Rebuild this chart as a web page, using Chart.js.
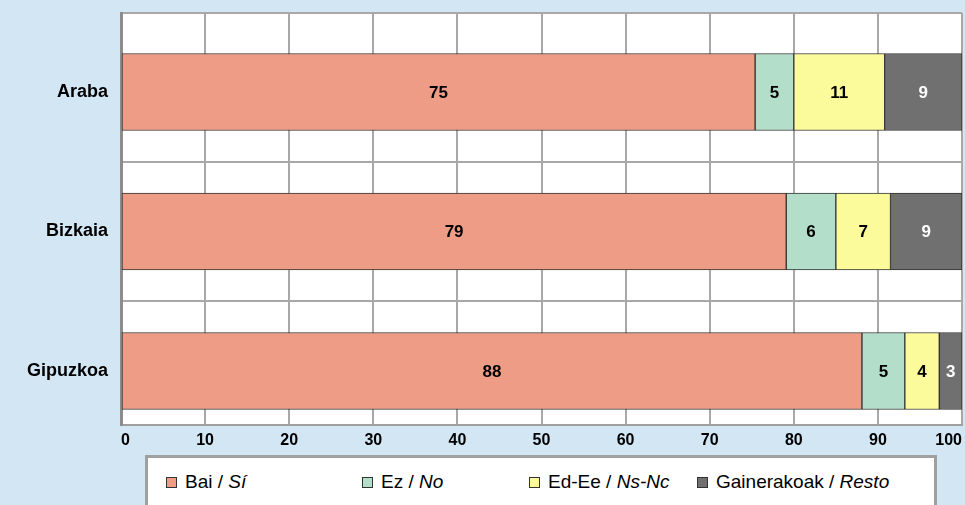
<!DOCTYPE html>
<html>
<head>
<meta charset="utf-8">
<script src="https://cdn.jsdelivr.net/npm/chart.js@4"></script>
<style>
  html, body { margin: 0; padding: 0; background: #D3E6F4; overflow: hidden; }
  #wrap { position: relative; width: 965px; height: 505px; }
  #legend {
    position: absolute; left: 145px; top: 455px; width: 786px; height: 60px;
    background: #fff; border: 3px solid #A0A0A0;
    font-family: "Liberation Sans", Arial, sans-serif; font-size: 19px; color: #000;
  }
  .item { position: absolute; top: 13px; display: flex; align-items: center; white-space: nowrap; line-height: 22px; }
  .item:nth-child(1) { left: 18px; }
  .item:nth-child(2) { left: 214px; }
  .item:nth-child(3) { left: 381px; }
  .item:nth-child(4) { left: 549px; }
  .box { width: 9px; height: 9px; border: 1px solid #333; margin-right: 8px; }
</style>
</head>
<body>
<div id="wrap">
  <canvas id="chart" width="965" height="505"></canvas>
  <div id="legend"></div>
</div>
<script>
// Province answers (%), stacked horizontal bars

const regions = ['Araba', 'Bizkaia', 'Gipuzkoa'];
const seriesEu = ['Bai', 'Ez', 'Ed-Ee', 'Gainerakoak'];
const seriesEs = ['Sí', 'No', 'Ns-Nc', 'Resto'];
const colors = ['#EE9C86', '#B3DEC9', '#FBFB9B', '#707070'];

const bai = [75.4, 79.1, 88.1];
const ez = [4.6, 5.9, 5.1];
const edEe = [10.8, 6.5, 4.1];
const resto = [9.2, 8.5, 2.7];

const seriesValues = [bai, ez, edEe, resto];

Chart.defaults.font.family = '"Liberation Sans", Arial, sans-serif';
Chart.defaults.color = '#000';

// white plot background
const plotBg = {
    id: 'plotBg',
    beforeDraw(chart) {
        const a = chart.chartArea;
        const ctx = chart.ctx;
        ctx.save();
        ctx.fillStyle = '#fff';
        ctx.fillRect(a.left, a.top, a.right - a.left, a.bottom - a.top);
        ctx.restore();
    }
};

// numbers inside the bars
const valueLabels = {
    id: 'valueLabels',
    afterDatasetsDraw(chart) {
        const ctx = chart.ctx;
        ctx.save();
        ctx.font = 'bold 17px "Liberation Sans", Arial, sans-serif';
        ctx.textAlign = 'center';
        ctx.textBaseline = 'middle';
        chart.data.datasets.forEach((ds, di) => {
            chart.getDatasetMeta(di).data.forEach((bar, i) => {
                ctx.fillStyle = di === 3 ? '#fff' : '#000';
                ctx.fillText(Math.round(ds.data[i].x), (bar.x + bar.base) / 2, bar.y + 1);
            });
        });
        ctx.restore();
    }
};

const datasets = seriesValues.map((vals, s) => ({
    label: seriesEu[s] + ' / ' + seriesEs[s],
    data: vals.map((v, i) => ({ x: v, y: i })),
    backgroundColor: colors[s],
    borderColor: '#333',
    borderWidth: 1,
    borderSkipped: false,
    barThickness: 77
}));

new Chart(document.getElementById('chart').getContext('2d'), {
    type: 'bar',
    data: { datasets: datasets },
    options: {
        indexAxis: 'y',
        responsive: false,
        animation: false,
        layout: { padding: { top: 13, right: 3, left: 0, bottom: 0 } },
        plugins: {
            legend: { display: false },
            tooltip: { enabled: false }
        },
        scales: {
            x: {
                min: 0,
                max: 100,
                stacked: true,
                ticks: {
                    stepSize: 10,
                    align: 'inner',
                    padding: 6,
                    maxRotation: 0,
                    font: { size: 16, weight: 'bold' }
                },
                grid: { color: '#A8A8A8', lineWidth: 2, drawTicks: false },
                border: { color: '#A0A0A0', width: 2 },
                afterFit: s => {
                    s.height = 80;
                    s.paddingLeft = 0;
                    s.paddingRight = 0;
                }
            },
            y: {
                type: 'linear',
                reverse: true,
                offset: false,
                min: -0.566,
                max: 2.387,
                stacked: true,
                afterBuildTicks: s => {
                    s.ticks = [s.min, 0, 0.5, 1, 1.5, 2, s.max].map(v => ({ value: v }));
                },
                ticks: {
                    autoSkip: false,
                    padding: 13,
                    font: { size: 18, weight: 'bold' },
                    callback: v => Number.isInteger(v) ? regions[v] : ''
                },
                grid: {
                    offset: false,
                    color: c => (c.tick && Number.isInteger(c.tick.value)) ? 'rgba(0,0,0,0)' : '#A8A8A8',
                    lineWidth: 2,
                    drawTicks: false
                },
                border: { color: '#8C8C8C', width: 3 },
                afterFit: s => {
                    s.width = 121;
                    s.paddingTop = 0;
                    s.paddingBottom = 0;
                }
            }
        }
    },
    plugins: [plotBg, valueLabels]
});

// legend with the Spanish part in italics
const legend = document.getElementById('legend');
seriesEu.forEach((name, s) => {
    const item = document.createElement('div');
    item.className = 'item';
    item.innerHTML = '<span class="box" style="background:' + colors[s] + '"></span>' +
        name + '&nbsp;/&nbsp;<i>' + seriesEs[s] + '</i>';
    legend.appendChild(item);
});
</script>
</body>
</html>
